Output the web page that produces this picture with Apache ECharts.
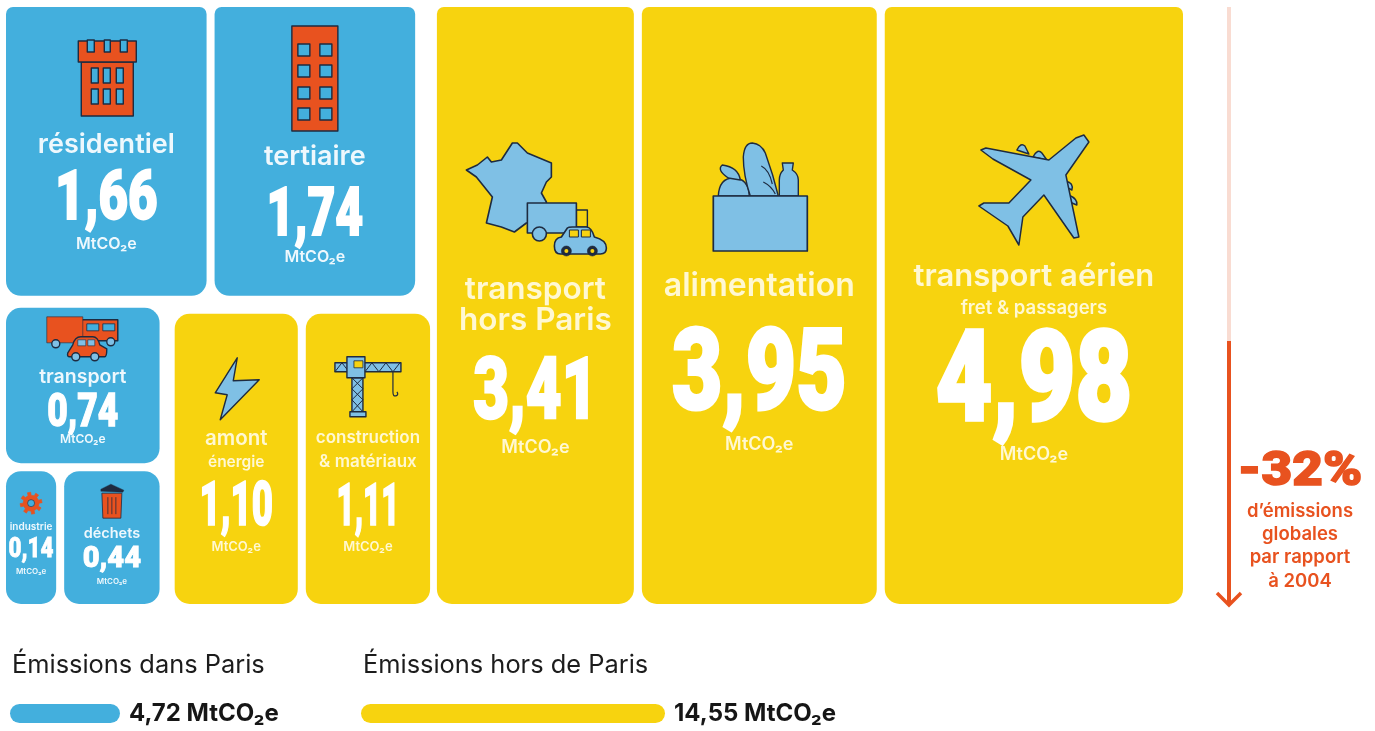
<!DOCTYPE html>
<html>
<head>
<meta charset="utf-8">
<style>html,body{margin:0;padding:0;background:#fff}#chart{width:1375px;height:731px}</style>
<script src="https://cdn.jsdelivr.net/npm/echarts@6/dist/echarts.min.js"></script>
</head>
<body>
<div id="chart"></div>
<script>
// data
const cellNames = ['résidentiel', 'tertiaire', 'transport', 'industrie', 'déchets', 'amont', 'construction', 'transport', 'alimentation', 'transport aérien'];
const cellNotes = ['', '', '', '', '', 'énergie', '& matériaux', 'hors Paris', '', 'fret & passagers'];
const cellValues = [1.66, 1.74, 0.74, 0.14, 0.44, 1.10, 1.11, 3.41, 3.95, 4.98];
const cellGroups = [0, 0, 0, 0, 0, 1, 1, 1, 1, 1];
const groupNames = ['Émissions dans Paris', 'Émissions hors de Paris'];
const groupValues = [4.72, 14.55];
const unit = 'MtCO₂e';
const reductionLines = ['d’émissions', 'globales', 'par rapport', 'à 2004'];
const reductionLabel = '-32%';

const BLUE = '#43afdd', YELLOW = '#f7d30f', ORANGE = '#e8521f', SKY = '#7fc0e5', INK = '#1e2b40';

// how the cells nest. h = side by side, v = stacked, numbers index the arrays above
const nesting = { dir: 'h', kids: [
  { dir: 'v', insetRight: -0.005, kids: [
    { dir: 'h', insetRight: 0.0126, kids: [{ cell: 0, min: 0.5 }, { cell: 1 }] },
    { dir: 'h', kids: [
      { dir: 'v', insetTop: 0.0066, kids: [{ cell: 2 }, { dir: 'h', min: 0.463, kids: [{ cell: 3, min: 0.36 }, { cell: 4 }] }] },
      { dir: 'h', insetLeft: 0.006, insetTop: 0.0165, kids: [{ cell: 5 }, { cell: 6 }] }
    ] }
  ] },
  { cell: 7, insetLeft: 0.004 }, { cell: 8 }, { cell: 9 }
] };

function weight(n) {
  return n.kids ? n.kids.reduce((s, k) => s + weight(k), 0) : cellValues[n.cell];
}
// slice the unit square by value
function slice(n, x0, y0, x1, y1, out) {
  x0 += n.insetLeft || 0; x1 -= n.insetRight || 0; y0 += n.insetTop || 0;
  if (!n.kids) { out.push([x0, y0, x1, y1, n.cell]); return out; }
  const horizontal = n.dir === 'h';
  const total = weight(n);
  const fixed = n.kids.reduce((s, k) => s + (k.min || 0), 0);
  const rest = n.kids.reduce((s, k) => s + (k.min ? 0 : weight(k)), 0);
  let pos = horizontal ? x0 : y0;
  const len = horizontal ? x1 - x0 : y1 - y0;
  n.kids.forEach(k => {
    const share = fixed ? (k.min || (1 - fixed) * weight(k) / rest) : weight(k) / total;
    const end = pos + share * len;
    if (horizontal) slice(k, pos, y0, end, y1, out); else slice(k, x0, pos, x1, end, out);
    pos = end;
  });
  return out;
}
const cellRects = slice(nesting, 0, 0, 1, 1, []);

// small path helpers for the icons
const box = (x, y, w, h) => `M${x} ${y}h${w}v${h}h${-w}z`;
const dot = (x, y, r) => `M${x - r} ${y}a${r} ${r} 0 1 0 ${2 * r} 0a${r} ${r} 0 1 0 ${-2 * r} 0z`;
const poly = pts => 'M' + pts.map(p => p.join(' ')).join('L') + 'z';
const solid = (d, fill, lw) => ({ d, fill, stroke: INK, lw: lw == null ? 1.4 : lw });
const open = (d, lw) => ({ d, fill: 'none', stroke: INK, lw: lw || 1.2 });
const grid2 = (xs, ys, w, h) => ys.map(y => xs.map(x => box(x, y, w, h)).join('')).join('');

const icons = [
  // résidentiel
  [solid(box(4, 24, 52, 54), ORANGE), solid(box(1, 3, 58, 21), ORANGE),
   solid(box(10, 2, 7, 12) + box(27, 2, 6, 12) + box(43, 2, 7, 12), BLUE),
   solid(grid2([14, 26, 39], [30, 51], 7, 15), BLUE)],
  // tertiaire
  [solid(box(0, 0, 46, 105), ORANGE), solid(grid2([6, 28], [18, 39, 61, 82], 12, 12), BLUE)],
  // transport
  [solid(box(36, 5, 37, 21), ORANGE), solid(box(58, 9, 12, 7) + box(42, 9, 12, 7), BLUE, 0.8),
   solid(box(2, 2, 36, 26), ORANGE, 0.6), solid(dot(11, 29, 4) + dot(66, 27, 4), SKY),
   solid('M23 38L28 30Q30 22 36 22L48 22Q53 22 55 30L62 34Q62 42 60 42L25 42Q22 42 23 38z', ORANGE),
   solid(box(33, 25, 8, 6) + box(43, 25, 7, 6), SKY, 0.6), solid(dot(31, 42, 4) + dot(50, 42, 4), SKY)],
  // industrie
  [{ d: (function () {
      const pts = [];
      for (let i = 0; i < 8; i++) {
        const a = i * Math.PI / 4;
        [[-0.24, 11], [-0.2, 8], [0.2, 8], [0.24, 11]].forEach(p => pts.push([Math.sin(a + p[0] + 0.2) * p[1], -Math.cos(a + p[0] + 0.2) * p[1]]));
      }
      return poly(pts.map(p => [p[0].toFixed(1), p[1].toFixed(1)]));
    })(), fill: ORANGE, stroke: ORANGE, lw: 0.6 }, { d: dot(0, 0, 3.5), fill: BLUE, stroke: INK, lw: 0.6 }],
  // déchets
  [solid(poly([[3, 12], [23, 12], [22, 37], [4, 37]]), ORANGE, 0.8),
   open('M9 16V33M13 16V33M17 16V33', 0.8), solid('M2 8L12 3L25 9L24 11L2 10z', INK, 0.4)],
  // amont énergie
  [solid(poly([[22, 0], [18, 23], [44, 22], [5, 62], [12, 37], [0, 35]]), SKY)],
  // construction
  [solid(box(1, 8, 66, 9), SKY), open('M1 17L8 8L15 17M31 17L38 8L45 17L52 8L59 17L66 8', 1),
   solid(box(18, 23, 11, 34), SKY), open('M18 23L29 34L18 45L29 57M29 23L18 34L29 45L18 57', 1),
   solid(box(13, 2, 18, 21), SKY), solid(box(20, 6, 9, 7), YELLOW, 0.8), solid(box(16, 57, 16, 5), SKY),
   open('M59 17V37Q59 42 62 41Q65 40 63 37', 1.2)],
  // transport hors Paris
  [solid(poly([[2, 30], [13, 25], [23, 17], [27, 22], [37, 20], [48, 3], [53, 3], [63, 13], [87, 23], [87, 37], [82, 42], [77, 53], [82, 62], [82, 80], [62, 83], [50, 92], [37, 87], [22, 83], [28, 57], [12, 37]]), SKY, 1.6),
   solid(box(112, 70, 11, 17), YELLOW, 1.4), solid(box(63, 63, 49, 30), SKY, 1.6), solid(dot(75, 94, 7), SKY, 1.6),
   solid('M90 106Q90 98 97 97L103 88Q104 87 108 87L122 87Q127 87 130 97Q142 100 142 108Q142 114 136 114L96 114Q90 114 90 106z', SKY, 1.6),
   solid(box(105, 90, 9, 7) + box(117, 90, 9, 7), YELLOW, 1), solid(dot(102, 111, 5) + dot(128, 111, 5), INK, 0.6),
   { d: dot(102, 111, 2) + dot(128, 111, 2), fill: YELLOW, stroke: 'none', lw: 0 }],
  // alimentation
  [solid('M5 56Q6 38 20 38Q35 38 36 56z', SKY), solid('M15 38Q3 30 9 25Q25 27 27 40z', SKY),
   solid('M37 56Q30 35 30 17Q31 3 39 3Q48 4 52 13Q60 35 65 56z', SKY), open('M48 26Q56 30 59 44M50 42Q58 46 62 54', 1.2),
   solid('M66 56L66 40Q66 34 70 30L69 23L80 23L79 30Q85 34 85 40L85 56z', SKY),
   solid(box(0, 56, 94, 55), SKY, 1.7)],
  // transport aérien
  [solid('M38 17Q42 9 46 13L50 21z', SKY), solid('M54 24Q59 15 63 20L68 27z', SKY),
   solid('M87 48Q95 50 93 57L89 55zM90 62Q99 66 98 72L93 70z', SKY),
   solid(poly([[110, 9], [105, 2], [97, 5], [70, 27], [7, 15], [2, 17], [14, 26], [52, 47], [30, 70], [5, 70], [0, 73], [29, 93], [40, 112], [44, 84], [65, 62], [95, 105], [100, 104], [87, 42]]), SKY, 1.5)]
];

// text and icon placement per cell: offsets from cell centre x and cell top
const cellLayout = [
  { icon: [-29, 31], title: 138, titleSize: 27, num: 195, numSize: 68, numScale: 0.75, unit: 237, unitSize: 16 },
  { icon: [-23, 19], title: 150, titleSize: 27, num: 211, numSize: 67, numScale: 0.72, unit: 250, unitSize: 16 },
  { icon: [-38, 7], title: 69, titleSize: 19.5, num: 107, numSize: 46, numScale: 0.77, unit: 132, unitSize: 12 },
  { icon: [0, 32], title: 56, titleSize: 10, num: 79, numSize: 28, numScale: 0.8, unit: 100, unitSize: 8 },
  { icon: [-13, 10], title: 62, titleSize: 14.5, num: 88, numSize: 30, numScale: 0.97, unit: 110, unitSize: 8 },
  { icon: [-21, 44], title: 125, titleSize: 20.5, note: 149, noteSize: 15.5, num: 196, numSize: 61, numScale: 0.6, unit: 233, unitSize: 13 },
  { icon: [-34, 41], title: 124, titleSize: 17, note: 148, noteSize: 17, num: 196, numSize: 60, numScale: 0.52, unit: 233, unitSize: 13 },
  { icon: [-71, 133], title: 283, titleSize: 31.5, note: 314, noteSize: 31.5, num: 389, numSize: 86, numScale: 0.72, unit: 441, unitSize: 18 },
  { icon: [-46, 133], title: 279, titleSize: 32, num: 374, numSize: 113, numScale: 0.77, unit: 438, unitSize: 18 },
  { icon: [-55, 126], title: 270, titleSize: 31, note: 301, noteSize: 18.5, num: 381, numSize: 127, numScale: 0.77, unit: 448, unitSize: 18 }
];

const GAP = 4;
const FONT = 'Inter, Roboto, sans-serif';

function drawCell(params, api) {
  const i = api.value(4);
  const a = api.coord([api.value(0), api.value(1)]);
  const b = api.coord([api.value(2), api.value(3)]);
  const x = a[0] + GAP, y = a[1] + GAP, w = b[0] - a[0] - 2 * GAP, h = b[1] - a[1] - 2 * GAP;
  const cx = x + w / 2;
  const st = cellLayout[i];
  const soft = cellGroups[i] ? '#fff8d2' : '#eef8fd';
  const radius = api.value(1) === 0 ? [7, 7, 15, 15] : 15;
  const txt = (text, dy, size, weightName, fill, scaleX, family, thick) => ({
    type: 'text', x: cx, y: y + dy, scaleX: scaleX || 1,
    style: {
      text, fontSize: size, fontWeight: weightName, fontFamily: family || FONT, fill,
      align: 'center', verticalAlign: 'middle',
      stroke: thick ? fill : 'transparent', lineWidth: thick || 0, lineJoin: 'round'
    }
  });
  const children = [{
    type: 'rect', shape: { x, y, width: w, height: h, r: radius },
    style: { fill: cellGroups[i] ? YELLOW : BLUE }
  }, {
    type: 'group', x: cx + st.icon[0], y: y + st.icon[1],
    children: icons[i].map(p => ({
      type: 'path', shape: { pathData: p.d },
      style: { fill: p.fill, stroke: p.stroke, lineWidth: p.lw, lineJoin: 'round' }
    }))
  }, txt(cellNames[i], st.title, st.titleSize, 600, soft)];
  if (cellNotes[i]) children.push(txt(cellNotes[i], st.note, st.noteSize, 600, soft));
  children.push(txt(cellValues[i].toFixed(2).replace('.', ','), st.num, st.numSize, 900, '#fff', st.numScale, 'Roboto, sans-serif', st.numSize / 36));
  children.push(txt(unit, st.unit, st.unitSize, 600, soft));
  return { type: 'group', children };
}

const barGrids = [{ left: 10, width: 110 }, { left: 361, width: 304 }];

const chart = echarts.init(document.getElementById('chart'));
chart.setOption({
  animation: false,
  backgroundColor: '#fff',
  grid: [
    { left: 2, top: 3, width: 1185, height: 605 },
    ...barGrids.map(g => ({ left: g.left, width: g.width, top: 704, height: 19 }))
  ],
  xAxis: [
    { type: 'value', gridIndex: 0, min: 0, max: 1, show: false },
    ...groupValues.map((v, i) => ({ type: 'value', gridIndex: i + 1, min: 0, max: v, show: false }))
  ],
  yAxis: [
    { type: 'value', gridIndex: 0, min: 0, max: 1, inverse: true, show: false },
    ...groupNames.map((n, i) => ({ type: 'category', gridIndex: i + 1, data: [n], show: false }))
  ],
  series: [
    {
      type: 'custom', xAxisIndex: 0, yAxisIndex: 0, silent: true, clip: false,
      renderItem: drawCell, data: cellRects,
      encode: { x: [0, 2], y: [1, 3] }
    },
    ...groupValues.map((v, i) => ({
      type: 'bar', name: groupNames[i], xAxisIndex: i + 1, yAxisIndex: i + 1, silent: true,
      data: [v], barWidth: 19,
      itemStyle: { color: i ? YELLOW : BLUE, borderRadius: 9.5 },
      label: {
        show: true, position: 'right', distance: 9, color: '#161616',
        fontFamily: FONT, fontSize: 24, fontWeight: 700,
        formatter: p => p.value.toFixed(2).replace('.', ',') + ' ' + unit
      }
    }))
  ],
  graphic: [
    { type: 'line', silent: true, shape: { x1: 1229, y1: 7, x2: 1229, y2: 341 }, style: { stroke: '#f9dcd2', lineWidth: 4 } },
    { type: 'line', silent: true, shape: { x1: 1229, y1: 341, x2: 1229, y2: 604 }, style: { stroke: ORANGE, lineWidth: 4 } },
    { type: 'polyline', silent: true, shape: { points: [[1217, 593], [1229, 605], [1241, 593]] }, style: { stroke: ORANGE, lineWidth: 3.5, fill: 'none' } },
    { type: 'text', silent: true, x: 1300, y: 473, scaleX: 1.08, style: { text: reductionLabel, fontFamily: 'Roboto, sans-serif', fontSize: 49, fontWeight: 900, fill: ORANGE, stroke: ORANGE, lineWidth: 1.5, lineJoin: 'round', align: 'center', verticalAlign: 'middle' } },
    ...reductionLines.map((t, i) => ({
      type: 'text', silent: true, x: 1300, y: 511 + i * 23.4,
      style: { text: t, fontFamily: FONT, fontSize: 18.5, fontWeight: 600, fill: ORANGE, align: 'center', verticalAlign: 'middle' }
    })),
    ...groupNames.map((t, i) => ({
      type: 'text', silent: true, x: barGrids[i].left + 2, y: 665,
      style: { text: t, fontFamily: FONT, fontSize: 25.4, fontWeight: 400, fill: '#1c1c1c', align: 'left', verticalAlign: 'middle' }
    }))
  ]
});
</script>
</body>
</html>
